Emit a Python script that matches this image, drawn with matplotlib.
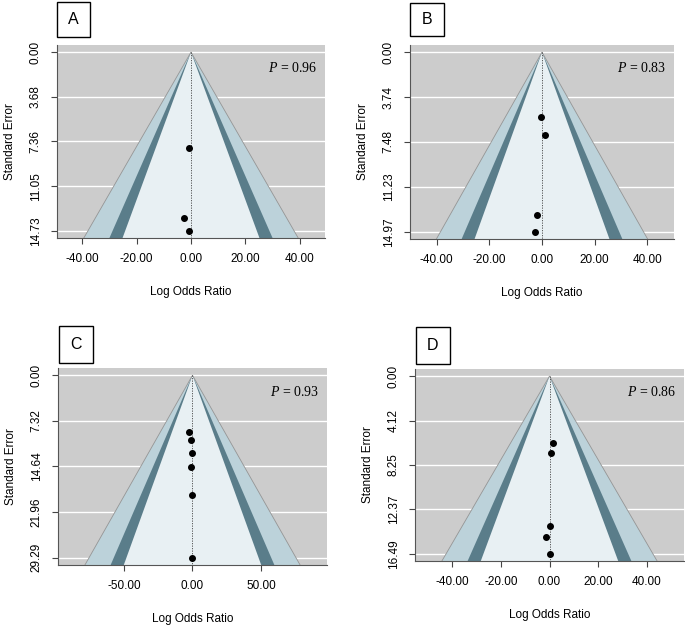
import matplotlib.pyplot as plt
from matplotlib.patches import Rectangle

plt.rcParams.update({
    "font.family": ["Liberation Sans", "DejaVu Sans"],
    "font.size": 8.5,
    "mathtext.fontset": "custom",
    "mathtext.it": "Liberation Serif:italic",
    "mathtext.rm": "Liberation Serif",
})

BG = "#cccccc"
INNER = "#e8f0f3"
DARK = "#5a7d8a"
LIGHT = "#bcd2da"
EDGE = "#959595"

# panel data: log odds ratio (x) and standard error (y)
A_x = [-0.7, -2.6, -0.7]
A_se = [7.9, 13.7, 14.73]
B_x = [-0.5, 1.1, -2.0, -2.8]
B_se = [5.37, 6.9, 13.6, 14.97]
C_x = [-2.2, -1.2, 0.0, -1.2, -0.7, -0.7]
C_se = [9.1, 10.35, 12.46, 14.8, 19.3, 29.29]
D_x = [1.5, 0.6, 0.0, -1.6, 0.3]
D_se = [6.2, 7.13, 13.9, 14.94, 16.49]

labels = ["A", "B", "C", "D"]
pvals = ["0.96", "0.83", "0.93", "0.86"]
yticks = [
    [0.00, 3.68, 7.36, 11.05, 14.73],
    [0.00, 3.74, 7.48, 11.23, 14.97],
    [0.00, 7.32, 14.64, 21.96, 29.29],
    [0.00, 4.12, 8.25, 12.37, 16.49],
]
xticks = [
    [-40, -20, 0, 20, 40],
    [-40, -20, 0, 20, 40],
    [-50, 0, 50],
    [-40, -20, 0, 20, 40],
]

# axes rectangles in pixels (left, top, right, bottom) of a 685x626 figure
W, H = 685, 626
boxes = [
    (57, 45, 325, 238),
    (410, 45, 674, 239),
    (58, 368, 327, 565),
    (415, 369, 684, 561),
]
label_boxes = [
    (57, 2, 90, 37),
    (410, 3, 444, 36),
    (59, 326, 93, 363),
    (416, 327, 450, 364),
]

fig = plt.figure(figsize=(W / 100, H / 100), dpi=100)

data = [(A_x, A_se), (B_x, B_se), (C_x, C_se), (D_x, D_se)]
for i, (xs, se) in enumerate(data):
    l, t, r, b = boxes[i]
    ax = fig.add_axes([l / W, 1 - b / H, (r - l) / W, (b - t) / H])
    ax.set_facecolor(BG)

    smax = max(se)
    ybot = smax * 1.04
    ytop = -smax * 0.04
    xlim = 2.576 * ybot * 1.25
    ax.set_xlim(-xlim, xlim)
    ax.set_ylim(ybot, ytop)

    yt = yticks[i]
    for v in yt:
        ax.axhline(v, color="white", lw=1.0, zorder=1)

    # contour-enhanced funnel: 99%, 95%, 90% regions
    for z, col in [(2.576, LIGHT), (1.96, DARK), (1.645, INNER)]:
        ax.fill([0, -z * ybot, z * ybot], [0, ybot, ybot], color=col,
                zorder=2, lw=0)
    ax.plot([-2.576 * ybot, 0, 2.576 * ybot], [ybot, 0, ybot],
            color=EDGE, lw=0.6, zorder=3)
    ax.plot([0, 0], [0, ybot], color="#444444", lw=0.6, ls=(0, (1.5, 1.5)),
            zorder=3)

    ax.scatter(xs, se, s=16, color="black", zorder=4)

    ax.set_yticks(yt)
    ax.set_yticklabels([f"{v:.2f}" for v in yt], rotation=90, va="center")
    ax.set_xticks(xticks[i])
    ax.set_xticklabels([f"{v:.2f}" for v in xticks[i]])
    ax.tick_params(length=4, width=0.8, color="#444444", pad=7)
    for s in ["top", "right"]:
        ax.spines[s].set_visible(False)
    for s in ["left", "bottom"]:
        ax.spines[s].set_color("#555555")
        ax.spines[s].set_linewidth(0.8)

    ax.set_xlabel("Log Odds Ratio", labelpad=15)
    ax.set_ylabel("Standard Error", labelpad=10)
    ax.text(0.97, 0.88, f"$P$ = {pvals[i]}", transform=ax.transAxes,
            ha="right", va="center", fontsize=10,
            family=["Liberation Serif"], zorder=5)

    bl, bt, br, bb = label_boxes[i]
    fig.patches.append(Rectangle((bl / W, 1 - bb / H), (br - bl) / W,
                                 (bb - bt) / H, transform=fig.transFigure,
                                 fill=False, edgecolor="black", lw=1))
    fig.text((bl + br) / 2 / W, 1 - (bt + bb) / 2 / H, labels[i],
             ha="center", va="center", fontsize=11.5)

fig.savefig("out.png", dpi=100)
